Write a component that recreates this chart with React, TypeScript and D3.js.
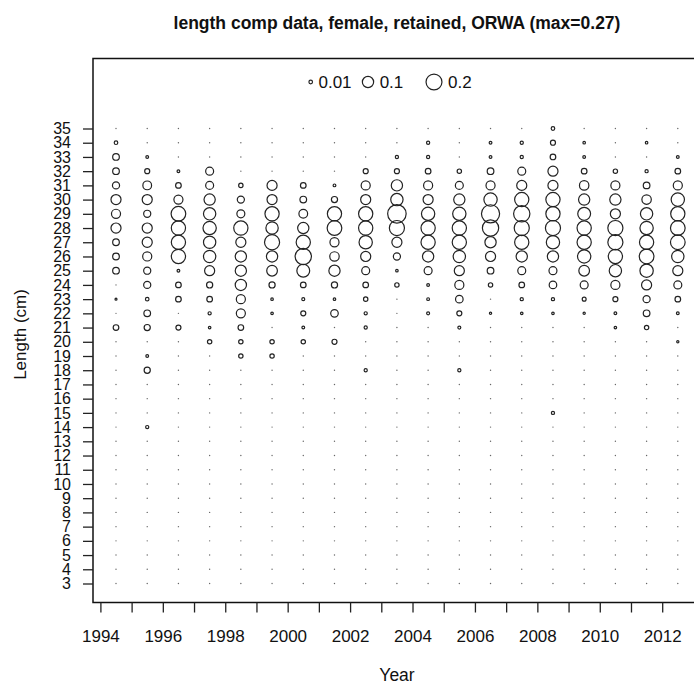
import React, { useRef, useEffect } from 'react';
import * as d3 from 'd3';

// --- DATA ---
const years = [
  1994.5, 1995.5, 1996.5, 1997.5, 1998.5, 1999.5, 2000.5, 2001.5, 2002.5, 2003.5,
  2004.5, 2005.5, 2006.5, 2007.5, 2008.5, 2009.5, 2010.5, 2011.5, 2012.5,
];

const lengthBins = [
  35, 34, 33, 32, 31, 30, 29, 28, 27, 26, 25, 24, 23, 22, 21, 20, 19, 18, 17,
  16, 15, 14, 13, 12, 11, 10, 9, 8, 7, 6, 5, 4, 3,
];

// proportions by length bin, 35cm down to 3cm
const p1994 = [0, 0.01, 0.035, 0.035, 0.04, 0.08, 0.065, 0.08, 0.035, 0.035, 0.035, 0, 0.002, 0, 0.025, 0, 0, 0, 0, 0, 0, 0, 0, 0, 0, 0, 0, 0, 0, 0, 0, 0, 0];
const p1995 = [0, 0, 0.006, 0.02, 0.06, 0.08, 0.04, 0.08, 0.08, 0.065, 0.04, 0.04, 0.01, 0.035, 0.03, 0, 0.006, 0.03, 0, 0, 0, 0.008, 0, 0, 0, 0, 0, 0, 0, 0, 0, 0, 0];
const p1996 = [0, 0, 0, 0.006, 0.025, 0.065, 0.17, 0.16, 0.16, 0.16, 0.006, 0.025, 0.025, 0, 0.02, 0, 0, 0, 0, 0, 0, 0, 0, 0, 0, 0, 0, 0, 0, 0, 0, 0, 0];
const p1997 = [0, 0, 0, 0.05, 0.05, 0.1, 0.12, 0.14, 0.12, 0.12, 0.08, 0.03, 0.025, 0.008, 0.005, 0.015, 0, 0, 0, 0, 0, 0, 0, 0, 0, 0, 0, 0, 0, 0, 0, 0, 0];
const p1998 = [0, 0, 0, 0, 0.015, 0.04, 0.05, 0.16, 0.08, 0.1, 0.1, 0.1, 0.065, 0.065, 0.025, 0.015, 0.015, 0, 0, 0, 0, 0, 0, 0, 0, 0, 0, 0, 0, 0, 0, 0, 0];
const p1999 = [0, 0, 0, 0, 0.08, 0.08, 0.16, 0.12, 0.18, 0.1, 0.09, 0.03, 0.005, 0.005, 0, 0.015, 0.015, 0, 0, 0, 0, 0, 0, 0, 0, 0, 0, 0, 0, 0, 0, 0, 0];
const p2000 = [0, 0, 0, 0, 0.025, 0.035, 0.06, 0.1, 0.16, 0.21, 0.13, 0.025, 0.007, 0.02, 0.006, 0.015, 0, 0, 0, 0, 0, 0, 0, 0, 0, 0, 0, 0, 0, 0, 0, 0, 0];
const p2001 = [0, 0, 0, 0, 0.006, 0.03, 0.16, 0.17, 0.065, 0.07, 0.1, 0.03, 0.005, 0.045, 0, 0.02, 0, 0, 0, 0, 0, 0, 0, 0, 0, 0, 0, 0, 0, 0, 0, 0, 0];
const p2002 = [0, 0, 0, 0.02, 0.065, 0.08, 0.16, 0.16, 0.14, 0.08, 0.05, 0.025, 0.015, 0.008, 0.008, 0, 0, 0.008, 0, 0, 0, 0, 0, 0, 0, 0, 0, 0, 0, 0, 0, 0, 0];
const p2003 = [0, 0, 0.008, 0.02, 0.1, 0.12, 0.27, 0.18, 0.08, 0.04, 0.005, 0.015, 0, 0, 0, 0, 0, 0, 0, 0, 0, 0, 0, 0, 0, 0, 0, 0, 0, 0, 0, 0, 0];
const p2004 = [0, 0.008, 0.008, 0.025, 0.065, 0.08, 0.14, 0.16, 0.16, 0.1, 0.05, 0.006, 0.006, 0.007, 0, 0, 0, 0, 0, 0, 0, 0, 0, 0, 0, 0, 0, 0, 0, 0, 0, 0, 0];
const p2005 = [0, 0, 0, 0.015, 0.05, 0.1, 0.14, 0.16, 0.16, 0.12, 0.08, 0.065, 0.045, 0.02, 0.007, 0, 0, 0.008, 0, 0, 0, 0, 0, 0, 0, 0, 0, 0, 0, 0, 0, 0, 0];
const p2006 = [0, 0.006, 0.006, 0.035, 0.065, 0.14, 0.26, 0.21, 0.1, 0.08, 0.035, 0.015, 0, 0.004, 0, 0, 0, 0, 0, 0, 0, 0, 0, 0, 0, 0, 0, 0, 0, 0, 0, 0, 0];
const p2007 = [0, 0.008, 0.008, 0.05, 0.08, 0.16, 0.21, 0.18, 0.16, 0.1, 0.05, 0.025, 0.008, 0.005, 0, 0, 0, 0, 0, 0, 0, 0, 0, 0, 0, 0, 0, 0, 0, 0, 0, 0, 0];
const p2008 = [0.01, 0.02, 0.025, 0.08, 0.08, 0.16, 0.16, 0.18, 0.14, 0.1, 0.05, 0.045, 0.008, 0.005, 0, 0, 0, 0, 0, 0, 0.008, 0, 0, 0, 0, 0, 0, 0, 0, 0, 0, 0, 0];
const p2009 = [0, 0.005, 0.006, 0.025, 0.07, 0.1, 0.13, 0.16, 0.16, 0.14, 0.09, 0.05, 0.012, 0.004, 0, 0, 0, 0, 0, 0, 0, 0, 0, 0, 0, 0, 0, 0, 0, 0, 0, 0, 0];
const p2010 = [0, 0, 0, 0.015, 0.065, 0.1, 0.08, 0.18, 0.18, 0.16, 0.12, 0.065, 0.02, 0.006, 0.005, 0, 0, 0, 0, 0, 0, 0, 0, 0, 0, 0, 0, 0, 0, 0, 0, 0, 0];
const p2011 = [0, 0.005, 0, 0.008, 0.035, 0.07, 0.12, 0.14, 0.16, 0.17, 0.14, 0.08, 0.04, 0.035, 0.015, 0, 0, 0, 0, 0, 0, 0, 0, 0, 0, 0, 0, 0, 0, 0, 0, 0, 0];
const p2012 = [0, 0, 0.006, 0.025, 0.065, 0.14, 0.16, 0.17, 0.17, 0.12, 0.08, 0.05, 0.025, 0.006, 0, 0.004, 0, 0, 0, 0, 0, 0, 0, 0, 0, 0, 0, 0, 0, 0, 0, 0, 0];

const comps = [
  p1994, p1995, p1996, p1997, p1998, p1999, p2000, p2001, p2002, p2003,
  p2004, p2005, p2006, p2007, p2008, p2009, p2010, p2011, p2012,
];

const legendValues = [0.01, 0.1, 0.2];
const legendLabels = ['0.01', '0.1', '0.2'];
const xTickYears = [
  1994, 1995, 1996, 1997, 1998, 1999, 2000, 2001, 2002, 2003, 2004, 2005, 2006,
  2007, 2008, 2009, 2010, 2011, 2012,
];

const FONT = '"Liberation Sans", Arial, sans-serif';

export default function App() {
  const svgRef = useRef<SVGSVGElement>(null);

  useEffect(() => {
    if (!svgRef.current) return;
    const svg = d3.select(svgRef.current);
    svg.selectAll('*').remove();

    // plot region (right edge runs past the picture)
    const box = { left: 93, top: 58.5, right: 701, bottom: 602.5 };

    const xScale = d3.scaleLinear().domain([1994, 2012]).range([100.4, 662.2]);
    const yScale = d3.scaleLinear().domain([3, 35]).range([583.5, 128.5]);
    const rScale = d3.scaleSqrt().domain([0, 1]).range([0, 17.8]);

    // title
    svg.append('text')
      .attr('x', 397)
      .attr('y', 29)
      .attr('text-anchor', 'middle')
      .style('font-family', FONT)
      .style('font-size', '17.5px')
      .style('font-weight', 'bold')
      .attr('fill', '#111')
      .text('length comp data, female, retained, ORWA (max=0.27)');

    // box
    svg.append('rect')
      .attr('x', box.left)
      .attr('y', box.top)
      .attr('width', box.right - box.left)
      .attr('height', box.bottom - box.top)
      .attr('fill', 'none')
      .attr('stroke', '#111')
      .attr('stroke-width', 1.5);

    // x axis
    const xAxis = svg.append('g')
      .attr('transform', `translate(0,${box.bottom})`)
      .call(
        d3.axisBottom(xScale)
          .tickValues(xTickYears)
          .tickSize(10)
          .tickPadding(17)
          .tickFormat(d => (+d % 2 === 0 ? String(d) : ''))
      );
    xAxis.select('.domain').remove();
    xAxis.selectAll('.tick line').attr('stroke', '#222').attr('stroke-width', 1.3);
    xAxis.selectAll('text')
      .attr('fill', '#111')
      .style('font-family', FONT)
      .style('font-size', '17px');

    // y axis
    const yAxis = svg.append('g')
      .attr('transform', `translate(${box.left},0)`)
      .call(
        d3.axisLeft(yScale)
          .tickValues(lengthBins)
          .tickSize(10)
          .tickPadding(12)
          .tickFormat(d => String(d))
      );
    yAxis.select('.domain').remove();
    yAxis.selectAll('.tick line').attr('stroke', '#222').attr('stroke-width', 1.3);
    yAxis.selectAll('text')
      .attr('fill', '#111')
      .style('font-family', FONT)
      .style('font-size', '16px');

    // axis labels
    svg.append('text')
      .attr('x', 397)
      .attr('y', 681)
      .attr('text-anchor', 'middle')
      .style('font-family', FONT)
      .style('font-size', '17.5px')
      .attr('fill', '#111')
      .text('Year');

    svg.append('text')
      .attr('transform', `translate(26,${(box.top + box.bottom) / 2 + 4}) rotate(-90)`)
      .attr('text-anchor', 'middle')
      .style('font-family', FONT)
      .style('font-size', '17px')
      .attr('fill', '#111')
      .text('Length (cm)');

    // bubbles
    const cells = years.flatMap((yr, i) =>
      lengthBins.map((len, j) => ({ yr, len, v: comps[i][j] }))
    );

    svg.append('g')
      .selectAll('circle')
      .data(cells)
      .enter()
      .append('circle')
      .attr('cx', d => xScale(d.yr))
      .attr('cy', d => yScale(d.len))
      .attr('r', d => (d.v > 0 ? Math.max(rScale(d.v), 1) : 0.7))
      .attr('fill', d => (d.v > 0 ? 'none' : '#666'))
      .attr('stroke', d => (d.v > 0 ? '#222' : 'none'))
      .attr('stroke-width', 1.2);

    // legend
    const legendX = [310.7, 368, 434];
    const legend = svg.append('g');
    legendValues.forEach((v, i) => {
      const r = rScale(v);
      legend.append('circle')
        .attr('cx', legendX[i])
        .attr('cy', 82)
        .attr('r', r)
        .attr('fill', 'none')
        .attr('stroke', '#222')
        .attr('stroke-width', 1.2);
      legend.append('text')
        .attr('x', legendX[i] + r + 6)
        .attr('y', 82)
        .attr('dy', '0.35em')
        .style('font-family', FONT)
        .style('font-size', '17px')
        .attr('fill', '#111')
        .text(legendLabels[i]);
    });
  }, []);

  return (
    <svg
      ref={svgRef}
      width={694}
      height={691}
      style={{ position: 'absolute', left: 0, top: 0, background: '#fff' }}
    />
  );
}
